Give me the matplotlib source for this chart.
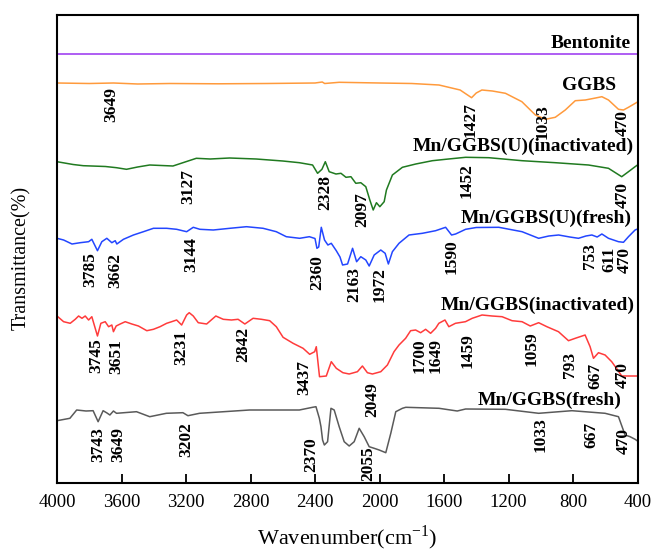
import matplotlib
matplotlib.use("Agg")
import matplotlib.pyplot as plt

plt.rcParams['font.family'] = ['Liberation Serif', 'DejaVu Serif']
plt.rcParams['mathtext.fontset'] = 'custom'
plt.rcParams['mathtext.rm'] = 'Liberation Serif'

# ---- spectra (wavenumber, transmittance in arbitrary stacked units) ----
bent_wn = [4000, 1150, 400]
bent_t = [429, 429, 429]

ggbs_wn = [4000, 3800, 3649, 3500, 3300, 3000, 2700, 2400, 2355, 2340, 2250, 2000, 1800,
           1631, 1500, 1429, 1400, 1365, 1300, 1219, 1117, 1033, 971, 910, 848, 786, 724,
           660, 621, 580, 518, 487, 456, 400]
ggbs_t = [400, 399.5, 400, 399, 399.5, 399.2, 399.5, 400, 401, 399.5, 400.7, 400, 399.5,
          398, 393, 385.3, 390, 393, 392, 389.7, 381.3, 368, 363.7, 365.7, 373, 382.3, 383,
          385, 386.3, 383, 373.7, 373, 375.7, 381]

ui_wn = [4000, 3900, 3837, 3700, 3631, 3569, 3500, 3425, 3281, 3219, 3136, 3050, 2930, 2765,
         2600, 2497, 2415, 2384, 2357, 2336, 2312, 2270, 2239, 2208, 2177, 2147, 2116, 2085,
         2060, 2039, 2019, 1998, 1971, 1957, 1920, 1858, 1775, 1672, 1590, 1466, 1322, 1116,
         910, 704, 580, 498, 456, 415, 400]
ui_t = [321.3, 318.5, 317.3, 316.5, 315.3, 313.7, 316, 318, 317, 320.3, 324.7, 324, 325, 324,
        322, 320.3, 318, 309.7, 313.7, 321.3, 311.3, 309, 309.7, 305.7, 306.3, 299.7, 300.3,
        296.3, 283, 273, 280.3, 276.3, 281.3, 293, 308, 315.7, 319, 322.3, 323.7, 325.7, 325.3,
        322.3, 320.3, 318, 314.7, 306.3, 311.3, 316.3, 318]

uf_wn = [4000, 3959, 3907, 3856, 3804, 3784, 3749, 3722, 3691, 3660, 3639, 3629, 3588, 3526,
         3464, 3402, 3320, 3258, 3196, 3155, 3114, 3031, 2928, 2825, 2722, 2640, 2578, 2495,
         2435, 2400, 2388, 2377, 2361, 2341, 2320, 2299, 2268, 2245, 2229, 2198, 2167, 2142,
         2116, 2085, 2064, 2033, 1992, 1965, 1945, 1920, 1879, 1817, 1734, 1652, 1590, 1553,
         1528, 1466, 1400, 1260, 1116, 1013, 950, 889, 820, 766, 720, 683, 650, 621, 580, 518,
         487, 456, 415, 400]
uf_t = [244.7, 243, 239, 240.3, 241.3, 243.7, 232.3, 241.3, 244.7, 240.3, 242.3, 239, 243.7,
        248, 251.3, 254.7, 254.7, 253.7, 251.3, 255.7, 253.7, 253, 254.7, 256.3, 254.7, 251.3,
        246.3, 244.7, 246.3, 244.5, 234.7, 236, 255.7, 243, 238, 239.7, 232.3, 226, 218, 219,
        234.7, 221.3, 226.3, 223, 217, 228, 233, 229.7, 219, 231.3, 239.7, 248, 249.7, 252.3,
        255.7, 248, 249, 253.7, 255.5, 255.7, 251.3, 244.7, 247, 248, 246, 244.7, 247, 248,
        246, 249, 244.7, 241.3, 240.7, 246.3, 253, 254]

mi_wn = [4000, 3959, 3918, 3887, 3866, 3845, 3825, 3804, 3784, 3769, 3749, 3728, 3701, 3680,
         3660, 3650, 3633, 3608, 3577, 3536, 3495, 3443, 3402, 3361, 3320, 3289, 3258, 3227,
         3196, 3180, 3155, 3124, 3072, 3015, 2969, 2918, 2877, 2835, 2784, 2732, 2681, 2640,
         2598, 2536, 2474, 2433, 2402, 2392, 2372, 2330, 2299, 2268, 2227, 2188, 2137, 2106,
         2075, 2044, 1992, 1951, 1910, 1879, 1838, 1807, 1776, 1745, 1714, 1683, 1652, 1632,
         1594, 1570, 1529, 1467, 1425, 1364, 1302, 1240, 1178, 1116, 1065, 1013, 962, 890, 828,
         786, 725, 694, 673, 642, 601, 560, 523, 498, 400]
mi_t = [167, 161.3, 159.7, 163.7, 167, 164.7, 167, 163, 166.3, 158, 147, 159.7, 161.3, 156.3,
        158, 151.3, 157, 159, 161.3, 159, 157, 152.3, 153.7, 156.3, 159.7, 161.3, 163, 158,
        168, 170.3, 167, 160.3, 159, 167, 163.7, 163, 163.7, 159, 164.7, 163.7, 162.3, 156.3,
        145.7, 139.7, 134.7, 128.7, 131.3, 136.3, 106.3, 107, 121.3, 114.7, 110.3, 109, 111.3,
        117, 110.3, 109, 111.3, 118, 131.3, 138, 144.7, 152.3, 153, 150.3, 153.7, 149.7,
        154.7, 159.7, 163, 156.3, 159.7, 161.3, 164.7, 168, 167, 166.3, 162.3, 161.3, 157,
        160.3, 156.3, 151.3, 142.3, 144.7, 148, 136.3, 124.7, 130.3, 128, 121.3, 113, 107, 107]

mf_wn = [4000, 3920, 3878, 3820, 3776, 3745, 3714, 3690, 3672, 3650, 3631, 3507, 3425, 3322,
         3219, 3188, 3116, 2806, 2497, 2415, 2394, 2373, 2363, 2353, 2342, 2322, 2301, 2281,
         2250, 2219, 2188, 2157, 2126, 2095, 2064, 2033, 2002, 1961, 1930, 1899, 1858, 1837,
         1631, 1518, 1466, 1219, 1013, 807, 601, 518, 477, 446, 415, 400]
mf_t = [62.3, 64.7, 73, 72, 72.3, 61.3, 72.3, 70, 68, 72, 69.7, 71.3, 66.3, 69.7,
        70.3, 67.3, 69.7, 73, 73, 75.7, 76.3, 64.7, 56.3, 43, 38, 41.3, 74.7, 73,
        56.3, 41.3, 37, 41.3, 54.7, 46.3, 36.3, 34.7, 33, 30.3, 49.7, 71.3, 74.7, 75.7,
        74.7, 72, 74, 73.7, 69.7, 72.3, 69.7, 66.3, 48, 46.3, 43.7, 42]

names = ['Bentonite', 'GGBS', 'Mn/GGBS(U)(inactivated)', 'Mn/GGBS(U)(fresh)',
         'Mn/GGBS(inactivated)', 'Mn/GGBS(fresh)']
colors = ['#9932F0', '#FF9A3C', '#207A20', '#2346FF', '#FF3B3B', '#5A5A5A']
series = [(bent_wn, bent_t), (ggbs_wn, ggbs_t), (ui_wn, ui_t), (uf_wn, uf_t),
          (mi_wn, mi_t), (mf_wn, mf_t)]

# name label anchors (right edge wavenumber, y)
name_x = [444, 531, 421, 436, 419, 502]
name_y = [440, 398, 336.3, 264.7, 178, 83]

# peak labels: (text, x wavenumber, top y)
peaks = [
    ('3649', 3662, 395.7), ('1427', 1436, 381.3), ('1033', 988, 379), ('470', 491, 373),
    ('3127', 3188, 313.7), ('2328', 2338, 308), ('2097', 2106, 290.3), ('1452', 1460, 319.7),
    ('470', 491, 301.3),
    ('3785', 3796, 231.3), ('3662', 3641, 230.3), ('3144', 3167, 245.7), ('2360', 2384, 228),
    ('2163', 2157, 216.3), ('1972', 2002, 216.3), ('1590', 1553, 243.7), ('753', 693, 239.7),
    ('611', 574, 236.3), ('470', 481, 236.3),
    ('3745', 3755, 145), ('3651', 3631, 143.7), ('3231', 3229, 153), ('2842', 2848, 156.3),
    ('3437', 2466, 123), ('2049', 2044, 101.3), ('1700', 1749, 144.7), ('1649', 1652, 144.7),
    ('1459', 1456, 149.7), ('1059', 1058, 151.3), ('793', 821, 131.3), ('667', 663, 120),
    ('470', 491, 121),
    ('3743', 3745, 55.7), ('3649', 3621, 55.7), ('3202', 3198, 61.3), ('2370', 2425, 45.7),
    ('2055', 2069, 36.3), ('1033', 1003, 66.3), ('667', 683, 61.3), ('470', 485, 54.7),
]

fig = plt.figure(figsize=(6.54, 5.53), dpi=100)
ax = fig.add_axes([57 / 654, 70 / 553, 580.5 / 654, 468 / 553])

for (wn, t), c in zip(series, colors):
    ax.plot(wn, t, color=c, lw=1.1)

for n, x, y in zip(names, name_x, name_y):
    ax.text(x, y, n, ha='right', va='center', fontsize=14, fontweight='bold')

for txt, x, y in peaks:
    ax.text(x, y, txt, rotation=90, ha='center', va='top', fontsize=12.5, fontweight='bold')

ax.set_xlim(4000, 400)
ax.set_ylim(0, 468)
ax.set_xticks([4000, 3600, 3200, 2800, 2400, 2000, 1600, 1200, 800, 400])
ax.set_yticks([])
ax.tick_params(axis='x', direction='in', length=6.5, width=1.3, labelsize=13.5, pad=8)
for s in ax.spines.values():
    s.set_linewidth(1.5)

ax.set_xlabel('Wavenumber(cm$^{-1}$)', fontsize=16, labelpad=9)
ax.set_ylabel('Transmittance(%)', fontsize=14.5)
ax.yaxis.set_label_coords(-0.045, 0.48)

fig.savefig('out.png', dpi=100)
